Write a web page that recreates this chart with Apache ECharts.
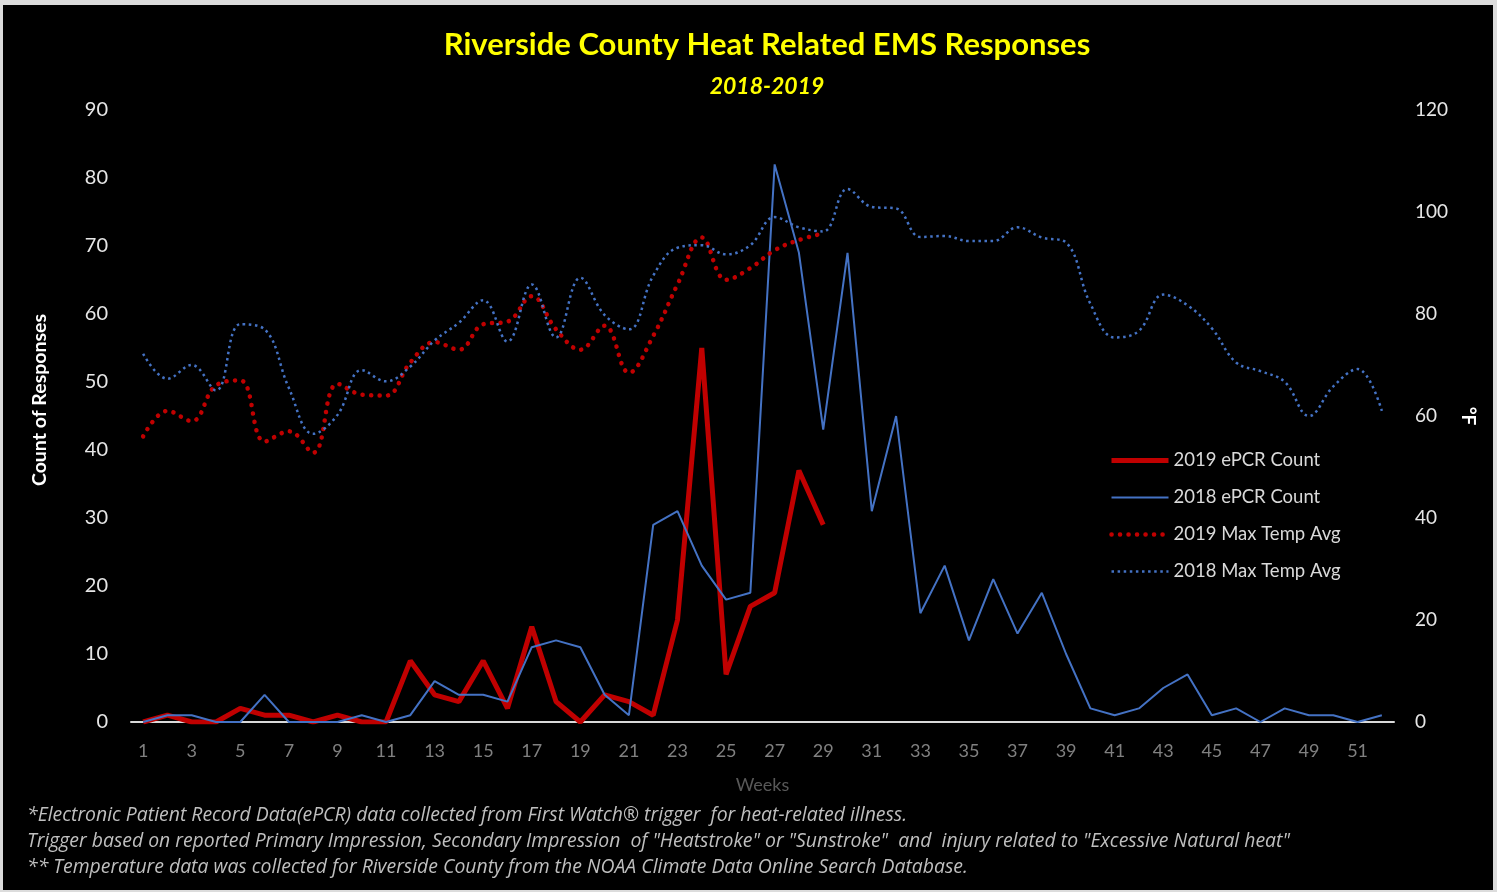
<!DOCTYPE html>
<html>
<head>
<meta charset="utf-8">
<script src="https://cdn.jsdelivr.net/npm/echarts@6/dist/echarts.min.js"></script>
<style>
    body { margin: 0; background: #dcdcdc; }
    #heat-chart { position: absolute; left: 3px; top: 5px; width: 1490px; height: 885px; }
</style>
</head>
<body>
<div id="heat-chart"></div>
<script>
var weeks = ['1', '2', '3', '4', '5', '6', '7', '8', '9', '10', '11', '12', '13', '14', '15', '16', '17', '18', '19', '20',
    '21', '22', '23', '24', '25', '26', '27', '28', '29', '30', '31', '32', '33', '34', '35', '36', '37', '38', '39', '40',
    '41', '42', '43', '44', '45', '46', '47', '48', '49', '50', '51', '52'];

// weekly counts (left axis)
var count2019 = [0, 1, 0, 0, 2, 1, 1, 0, 1, 0, 0, 9, 4, 3, 9, 2, 14, 3, 0, 4, 3, 1, 15, 55, 7, 17, 19, 37, 29];
var count2018 = [0, 1, 1, 0, 0, 4, 0, 0, 0, 1, 0, 1, 6, 4, 4, 3, 11, 12, 11, 4, 1, 29, 31, 23, 18, 19, 82, 69, 43, 69,
    31, 45, 16, 23, 12, 21, 13, 19, 10, 2, 1, 2, 5, 7, 1, 2, 0, 2, 1, 1, 0, 1];

// weekly max temperature averages, deg F (right axis)
var temp2019 = [56, 61, 59, 66, 67, 55, 57, 52.8, 66.3, 64.2, 64, 70.5, 74.5, 73, 78, 78.5, 83.5, 77, 73, 77.7,
    68.5, 75.7, 85.8, 95, 86.7, 89, 92.5, 94.5, 95.8];
var temp2018 = [72.2, 67.3, 70, 65, 78, 77, 65.5, 56.5, 60.2, 69, 66.8, 69.7, 74.8, 78.3, 82.7, 74.6, 85.8, 75.4, 87.1, 79.8,
    77, 87.5, 93, 93.5, 91.7, 93.5, 99, 97, 96.2, 104.5, 101, 100.7, 95.1, 95.3, 94.3, 94.3, 97, 95, 94, 82,
    75.4, 76.7, 83.8, 81.7, 77.2, 70.5, 68.8, 66.7, 60, 65.8, 69.2, 61];

var countTicks = [0, 90, 10];
var tempTicks = [0, 120, 20];

var footNotes = [
    '*Electronic Patient Record Data(ePCR) data collected from First Watch\u00ae trigger  for heat-related illness.',
    'Trigger based on reported Primary Impression, Secondary Impression  of "Heatstroke" or "Sunstroke"  and  injury related to "Excessive Natural heat"',
    '** Temperature data was collected for Riverside County from the NOAA Climate Data Online Search Database.'
];

var FONT = 'Lato, "Open Sans", sans-serif';

var makeText = function (x, y, text, style) {
    var s = {
        text: text,
        fontFamily: FONT,
        fill: '#d9d9d9',
        textVerticalAlign: 'middle'
    };
    for (var k in style) { s[k] = style[k]; }
    return {type: 'text', x: x, y: y, silent: true, style: s};
};

var graphics = [
    makeText(764, 40, 'Riverside County Heat Related EMS Responses',
        {fill: '#ffff00', fontSize: 31, fontWeight: 'bold', textAlign: 'center'}),
    makeText(764, 82, '2018-2019',
        {fill: '#ffff00', fontSize: 23, fontWeight: 'bold', fontStyle: 'italic', textAlign: 'center'})
];
for (var i = 0; i < footNotes.length; i++) {
    graphics.push(makeText(24, 810 + i * 26, footNotes[i],
        {fill: '#bfbfbf', fontSize: 19.4, fontStyle: 'italic', textAlign: 'left', fontFamily: '"Open Sans", sans-serif'}));
}
var nameLeft = makeText(37, 395, 'Count of Responses',
    {fill: '#ffffff', fontSize: 19.5, fontWeight: 'bold', textAlign: 'center'});
nameLeft.rotation = Math.PI / 2;
graphics.push(nameLeft);
var nameRight = makeText(1465, 411, '\u00b0F',
    {fill: '#ffffff', fontSize: 19, fontWeight: 'bold', textAlign: 'center'});
nameRight.rotation = -Math.PI / 2;
graphics.push(nameRight);

var myChart = echarts.init(document.getElementById('heat-chart'));
var option = {
    backgroundColor: '#000000',
    animation: false,
    textStyle: {fontFamily: FONT},
    graphic: graphics,
    legend: {
        orient: 'vertical',
        left: 1101,
        top: 441,
        itemWidth: 57,
        itemHeight: 14,
        itemGap: 18,
        itemStyle: {opacity: 0},
        textStyle: {color: '#d9d9d9', fontSize: 18.5, fontFamily: FONT},
        data: [
            {name: '2019 ePCR Count', lineStyle: {width: 5}},
            {name: '2018 ePCR Count', lineStyle: {width: 2}},
            {name: '2019 Max Temp Avg', lineStyle: {width: 4.5}},
            {name: '2018 Max Temp Avg', lineStyle: {width: 2.5}}
        ]
    },
    grid: {
        left: 128,
        right: 99,
        top: 105,
        bottom: 168
    },
    xAxis: {
        type: 'category',
        data: weeks,
        boundaryGap: true,
        name: 'Weeks',
        nameLocation: 'middle',
        nameGap: 54,
        nameTextStyle: {color: '#595959', fontSize: 18, fontFamily: FONT},
        axisLine: {lineStyle: {color: '#d9d9d9', width: 2}},
        axisTick: {interval: 0, length: 7, lineStyle: {color: '#d9d9d9', width: 2}},
        axisLabel: {interval: 1, color: '#808080', fontSize: 18, margin: 20, fontFamily: FONT}
    },
    yAxis: [
        {
            type: 'value',
            min: countTicks[0],
            max: countTicks[1],
            interval: countTicks[2],
            splitLine: {show: false},
            axisLine: {show: false},
            axisTick: {show: false},
            axisLabel: {color: '#e6e6e6', fontSize: 20, margin: 23, fontFamily: FONT}
        },
        {
            type: 'value',
            position: 'right',
            min: tempTicks[0],
            max: tempTicks[1],
            interval: tempTicks[2],
            splitLine: {show: false},
            axisLine: {show: false},
            axisTick: {show: false},
            axisLabel: {color: '#e6e6e6', fontSize: 19, margin: 21, fontFamily: FONT}
        }
    ],
    series: [
        {
            name: '2019 ePCR Count',
            type: 'line',
            yAxisIndex: 0,
            data: count2019,
            symbol: 'none',
            color: '#c00000',
            lineStyle: {color: '#c00000', width: 5}
        },
        {
            name: '2018 ePCR Count',
            type: 'line',
            yAxisIndex: 0,
            data: count2018,
            symbol: 'none',
            color: '#4472c4',
            lineStyle: {color: '#4472c4', width: 2}
        },
        {
            name: '2019 Max Temp Avg',
            type: 'line',
            yAxisIndex: 1,
            data: temp2019,
            smooth: 0.4,
            symbol: 'none',
            color: '#c00000',
            lineStyle: {color: '#c00000', width: 4.5, type: [0.1, 8.4], cap: 'round'}
        },
        {
            name: '2018 Max Temp Avg',
            type: 'line',
            yAxisIndex: 1,
            data: temp2018,
            smooth: 0.4,
            symbol: 'none',
            color: '#4472c4',
            lineStyle: {color: '#4472c4', width: 2.5, type: [2.5, 3.6]}
        }
    ]
};
myChart.setOption(option);
</script>
</body>
</html>
